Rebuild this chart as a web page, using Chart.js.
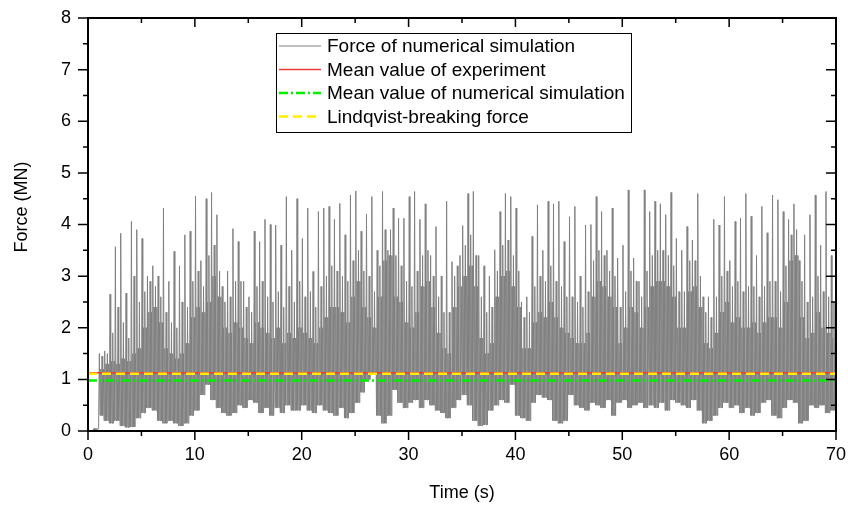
<!DOCTYPE html>
<html>
<head>
<meta charset="utf-8">
<script src="https://cdn.jsdelivr.net/npm/chart.js@4.4.1/dist/chart.umd.min.js"></script>
<style>
html, body { margin: 0; padding: 0; background: #fff; }
#wrap { width: 848px; height: 505px; }
</style>
</head>
<body>
<div id="wrap"><canvas id="chart" width="848" height="505"></canvas></div>
<script>
// force signal in 0.5 s bins:
// tallest spike, a typical medium spike, top of the dense band, bottom of the band
const binWidth = 0.5;
const forcePeak = [
  0.02, 0.05, 1.50, 1.55, 2.65, 3.57, 3.83, 2.67, 4.06, 3.90,
  3.73, 3.00, 3.20, 3.00, 4.32, 2.90, 3.48, 3.20, 3.80, 3.87,
  4.55, 3.30, 4.50, 4.62, 4.19, 2.80, 3.10, 3.92, 3.67, 2.90,
  2.60, 3.87, 3.67, 4.10, 4.00, 3.99, 3.60, 4.54, 3.50, 4.50,
  3.73, 4.32, 3.09, 4.25, 4.32, 4.35, 4.10, 4.41, 3.80, 4.57,
  4.65, 3.87, 4.20, 4.54, 3.50, 4.64, 3.50, 4.32, 4.12, 4.12,
  4.54, 4.64, 4.10, 4.40, 3.40, 3.96, 3.00, 4.45, 3.28, 3.20,
  3.98, 4.60, 4.64, 3.40, 3.20, 3.00, 3.51, 4.25, 4.60, 4.54,
  4.32, 2.50, 2.60, 3.77, 4.38, 3.50, 4.45, 4.40, 4.45, 3.67,
  4.15, 4.35, 3.00, 3.99, 4.00, 4.54, 4.25, 3.50, 4.32, 3.35,
  3.60, 4.67, 3.35, 2.90, 4.67, 4.25, 4.45, 4.40, 4.19, 4.62,
  3.73, 3.50, 3.96, 3.70, 4.60, 2.60, 2.60, 4.10, 3.99, 4.54,
  3.30, 4.06, 4.12, 4.60, 4.16, 3.40, 4.35, 3.84, 4.57, 4.48,
  4.25, 4.10, 4.40, 3.30, 3.80, 4.19, 4.57, 3.60, 4.64, 3.40
];
const forceMid = [
  0.02, 0.05, 1.45, 1.50, 1.90, 2.40, 2.10, 1.80, 3.00, 2.50,
  2.70, 2.90, 2.80, 2.60, 2.30, 2.10, 2.00, 2.50, 2.40, 2.90,
  3.10, 2.80, 3.40, 3.60, 3.10, 2.50, 2.60, 2.90, 2.90, 2.40,
  2.30, 2.80, 2.90, 2.60, 2.50, 2.70, 2.40, 2.80, 2.50, 2.90,
  2.60, 2.70, 2.40, 2.80, 3.00, 3.20, 3.10, 3.00, 2.90, 3.30,
  3.50, 3.10, 3.00, 2.70, 3.20, 3.90, 3.90, 3.40, 3.20, 2.90,
  2.80, 3.10, 3.40, 3.50, 3.00, 2.60, 2.30, 2.30, 3.00, 3.40,
  3.60, 3.80, 3.40, 2.60, 2.30, 2.40, 3.10, 3.60, 3.70, 3.40,
  3.10, 2.20, 2.30, 2.80, 3.00, 2.90, 3.20, 2.90, 2.80, 2.60,
  2.60, 2.50, 2.40, 2.70, 3.30, 3.50, 3.40, 3.10, 3.00, 2.40,
  2.70, 3.10, 2.90, 2.60, 3.10, 3.40, 3.50, 3.50, 3.40, 3.20,
  2.70, 2.70, 3.30, 3.30, 3.00, 2.30, 2.20, 2.60, 3.00, 3.10,
  2.80, 2.90, 2.70, 2.80, 2.80, 2.60, 2.80, 2.90, 2.90, 2.70,
  3.20, 3.80, 3.90, 2.90, 2.50, 2.60, 3.00, 2.70, 2.60, 2.50
];
const forceBody = [
  0.02, 0.05, 1.20, 1.30, 1.35, 1.30, 1.40, 1.35, 1.50, 1.60,
  2.00, 2.30, 2.40, 2.10, 1.60, 1.50, 1.40, 1.50, 1.70, 2.20,
  2.40, 2.30, 2.50, 3.00, 2.60, 2.00, 1.90, 2.10, 2.00, 1.80,
  1.70, 2.10, 2.00, 1.90, 1.80, 2.00, 1.70, 1.90, 1.80, 2.00,
  1.90, 1.80, 1.70, 2.00, 2.20, 2.40, 2.40, 2.30, 2.10, 2.60,
  2.90, 2.40, 2.20, 2.00, 2.60, 3.30, 3.40, 2.60, 2.50, 2.10,
  2.00, 2.30, 2.80, 2.90, 2.40, 1.90, 1.60, 1.50, 2.40, 2.80,
  3.00, 3.20, 2.80, 1.80, 1.50, 1.70, 2.60, 3.00, 3.10, 2.80,
  2.40, 1.60, 1.60, 2.10, 2.30, 2.20, 2.50, 2.20, 2.00, 1.90,
  1.80, 1.70, 1.70, 1.90, 2.60, 2.90, 2.80, 2.60, 2.40, 1.70,
  2.00, 2.40, 2.30, 2.00, 2.40, 2.80, 2.90, 2.90, 2.80, 2.60,
  2.00, 2.00, 2.70, 2.80, 2.40, 1.70, 1.60, 1.90, 2.30, 2.50,
  2.10, 2.20, 2.00, 2.00, 2.10, 1.90, 2.10, 2.20, 2.20, 2.00,
  2.50, 3.30, 3.40, 2.20, 1.80, 1.90, 2.30, 2.00, 1.90, 1.80
];
const forceLow = [
  0.00, 0.01, 0.30, 0.20, 0.15, 0.20, 0.10, 0.07, 0.08, 0.25,
  0.35, 0.45, 0.40, 0.20, 0.15, 0.20, 0.15, 0.10, 0.15, 0.30,
  0.40, 0.70, 0.90, 0.60, 0.45, 0.35, 0.30, 0.35, 0.50, 0.45,
  0.60, 0.55, 0.35, 0.45, 0.30, 0.45, 0.35, 0.50, 0.40, 0.40,
  0.50, 0.40, 0.35, 0.50, 0.40, 0.35, 0.30, 0.45, 0.25, 0.35,
  0.55, 0.75, 1.00, 1.10, 0.30, 0.15, 0.30, 0.80, 0.55, 0.45,
  0.55, 0.60, 0.45, 0.60, 0.50, 0.40, 0.35, 0.25, 0.45, 0.60,
  0.70, 0.50, 0.20, 0.10, 0.12, 0.40, 0.50, 0.60, 0.55, 0.90,
  0.30, 0.25, 0.20, 0.55, 0.70, 0.65, 0.60, 0.20, 0.15, 0.20,
  0.70, 0.50, 0.45, 0.40, 0.55, 0.50, 0.45, 0.60, 0.30, 0.55,
  0.60, 0.45, 0.50, 0.55, 0.45, 0.50, 0.45, 0.55, 0.40, 0.60,
  0.55, 0.50, 0.45, 0.60, 0.40, 0.15, 0.20, 0.30, 0.45, 0.55,
  0.45, 0.50, 0.35, 0.45, 0.30, 0.35, 0.55, 0.60, 0.30, 0.25,
  0.45, 0.60, 0.55, 0.15, 0.20, 0.50, 0.45, 0.50, 0.35, 0.40
];
const meanExperiment = 1.13;
const meanSimulation = 0.98;
const lindqvistForce = 1.11;

const xTicks = [0, 10, 20, 30, 40, 50, 60, 70];
const yTicks = [0, 1, 2, 3, 4, 5, 6, 7, 8];
const xMinor = [5, 15, 25, 35, 45, 55, 65];
const yMinor = [0.5, 1.5, 2.5, 3.5, 4.5, 5.5, 6.5, 7.5];
const seriesLabels = ['Force of numerical simulation', 'Mean value of experiment',
  'Mean value of numerical simulation', 'Lindqvist-breaking force'];

const FONT = "'Liberation Sans', Arial, sans-serif";

// each bin: big spike, band swing, medium spike, band swing
const forcePoints = [];
forcePeak.forEach((peak, i) => {
  const t = i * binWidth;
  const step = binWidth / 8;
  const tops = [peak, forceBody[i], forceMid[i], forceBody[i]];
  tops.forEach((top, k) => {
    forcePoints.push({ x: t + 2 * k * step, y: forceLow[i] });
    forcePoints.push({ x: t + (2 * k + 1) * step, y: top });
  });
});
forcePoints.push({ x: 70, y: forceBody[forceBody.length - 1] });

const flat = v => [{ x: 0, y: v }, { x: 70, y: v }];

/* ================= FRAME, TICKS, TITLES, LEGEND ====================== */
const framePlugin = {
  id: 'frame',
  afterDraw(chart) {
    const ctx = chart.ctx;
    const { left, right, top, bottom } = chart.chartArea;
    const xs = chart.scales.x, ys = chart.scales.y;
    ctx.save();
    ctx.strokeStyle = '#000';
    ctx.lineWidth = 2;
    ctx.strokeRect(left, top, right - left, bottom - top);

    ctx.lineWidth = 1.5;
    ctx.beginPath();
    const tick = (x1, y1, x2, y2) => { ctx.moveTo(x1, y1); ctx.lineTo(x2, y2); };
    xTicks.forEach(v => {
      const px = xs.getPixelForValue(v);
      tick(px, bottom, px, bottom + 9);
      tick(px, top, px, top + 9);
    });
    xMinor.forEach(v => {
      const px = xs.getPixelForValue(v);
      tick(px, bottom, px, bottom + 5);
      tick(px, top, px, top + 5);
    });
    yTicks.forEach(v => {
      const py = ys.getPixelForValue(v);
      tick(left - 10, py, left, py);
      tick(right - 10, py, right, py);
    });
    yMinor.forEach(v => {
      const py = ys.getPixelForValue(v);
      tick(left - 5, py, left, py);
      tick(right - 5, py, right, py);
    });
    ctx.stroke();

    // axis titles
    ctx.fillStyle = '#000';
    ctx.font = '18px ' + FONT;
    ctx.textAlign = 'center';
    ctx.textBaseline = 'middle';
    ctx.fillText('Time (s)', (left + right) / 2, 493);
    ctx.save();
    ctx.translate(22, 207);
    ctx.rotate(-Math.PI / 2);
    ctx.fillText('Force (MN)', 0, 0);
    ctx.restore();

    // legend box
    const lx = 276, ly = 33, lw = 355, lh = 99;
    ctx.fillStyle = '#fff';
    ctx.fillRect(lx, ly, lw, lh);
    ctx.lineWidth = 1;
    ctx.strokeStyle = '#000';
    ctx.strokeRect(lx + 0.5, ly + 0.5, lw, lh);
    chart.data.datasets.forEach((ds, i) => {
      const ry = 46 + i * 23.5;
      ctx.beginPath();
      ctx.strokeStyle = ds.borderColor;
      ctx.lineWidth = ds.borderWidth;
      ctx.setLineDash(ds.borderDash || []);
      ctx.moveTo(279, ry);
      ctx.lineTo(321, ry);
      ctx.stroke();
      ctx.setLineDash([]);
      ctx.fillStyle = '#000';
      ctx.textAlign = 'left';
      ctx.font = '19px ' + FONT;
      ctx.fillText(ds.label, 327, ry + 1);
    });
    ctx.restore();
  }
};

new Chart(document.getElementById('chart').getContext('2d'), {
  type: 'line',
  data: {
    datasets: [
      {
        label: seriesLabels[0],
        data: forcePoints,
        borderColor: '#808080',
        borderWidth: 1,
        pointRadius: 0,
        order: 4
      },
      {
        label: seriesLabels[1],
        data: flat(meanExperiment),
        borderColor: '#ee3b3b',
        borderWidth: 1.5,
        pointRadius: 0,
        order: 3
      },
      {
        label: seriesLabels[2],
        data: flat(meanSimulation),
        borderColor: '#00ee00',
        borderWidth: 2.5,
        borderDash: [9, 3, 2, 3],
        pointRadius: 0,
        order: 2
      },
      {
        label: seriesLabels[3],
        data: flat(lindqvistForce),
        borderColor: '#ffee00',
        borderWidth: 2.5,
        borderDash: [9, 5],
        pointRadius: 0,
        order: 1
      }
    ]
  },
  options: {
    responsive: false,
    animation: false,
    events: [],
    layout: { padding: { top: 18, right: 12, left: 0, bottom: 0 } },
    plugins: { legend: { display: false }, tooltip: { enabled: false } },
    scales: {
      x: {
        type: 'linear', min: 0, max: 70,
        afterBuildTicks: s => { s.ticks = xTicks.map(v => ({ value: v })); },
        afterFit: s => { s.height = 74; s.paddingLeft = 0; s.paddingRight = 0; },
        grid: { display: false, drawTicks: false },
        border: { display: false },
        ticks: { color: '#000', font: { size: 18, family: FONT }, padding: 13, maxRotation: 0 }
      },
      y: {
        type: 'linear', min: 0, max: 8,
        afterBuildTicks: s => { s.ticks = yTicks.map(v => ({ value: v })); },
        afterFit: s => { s.width = 88; s.paddingTop = 0; s.paddingBottom = 0; },
        grid: { display: false, drawTicks: false },
        border: { display: false },
        ticks: { color: '#000', font: { size: 18, family: FONT }, padding: 17 }
      }
    }
  },
  plugins: [framePlugin]
});
</script>
</body>
</html>
